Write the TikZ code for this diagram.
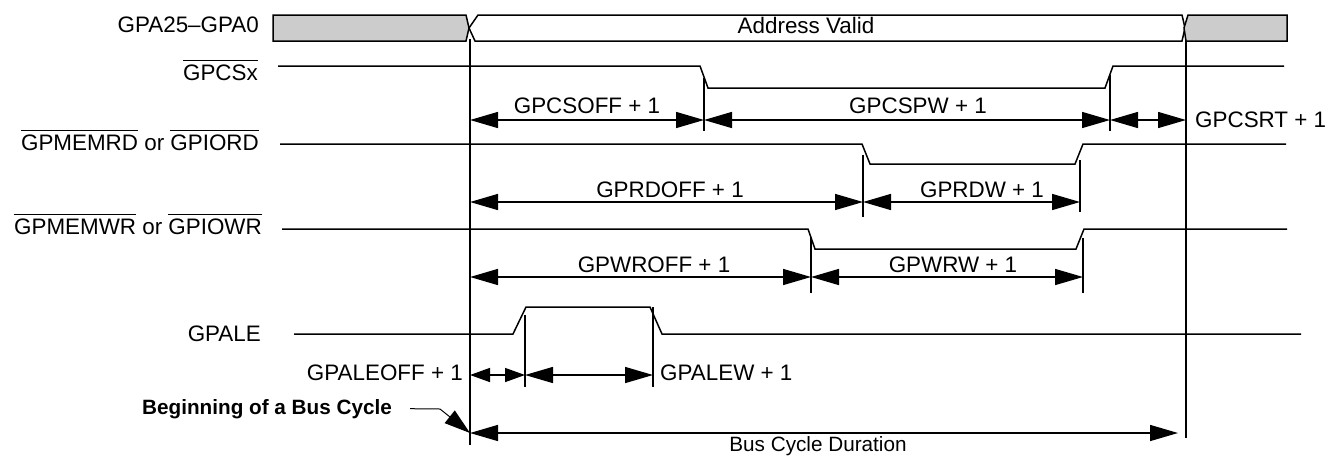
\documentclass[tikz,border=0pt]{standalone}
\usepackage{fontspec}
\setmainfont{Liberation Sans}
\usetikzlibrary{arrows.meta}
\usetikzlibrary{positioning}
\tikzset{sig/.style = {line width=1.5pt},
         span/.style = {line width=1.5pt,
                        {Triangle[length=28pt,width=16pt]}-{Triangle[length=28pt,width=16pt]}},
         shortspan/.style = {line width=1.5pt,
                        {Triangle[length=20pt,width=14pt]}-{Triangle[length=20pt,width=14pt]}},
         lbl/.style = {inner sep=0pt}}
\definecolor{busgray}{rgb}{0.8, 0.8, 0.8}
\newcommand{\negsig}[1]{\sbox0{#1}\rlap{\rule[19pt]{\wd0}{1.3pt}}\usebox0}

\begin{document}
\begin{tikzpicture}[x=1pt, y=-1pt, font=\fontsize{22.4}{26}\selectfont]
      \useasboundingbox (0,0) rectangle (1328,456);
      % signal names
      \node (nAddr) [lbl, anchor = base east] at (259,32) {GPA25–GPA0};
      \node (nCs) [lbl, anchor = base east] at (258,80) {\negsig{GPCSx}};
      \node (nRd) [lbl, anchor = base east] at (259,150) {\negsig{GPMEMRD} or \negsig{GPIORD}};
      \node (nWr) [lbl, anchor = base east] at (262,234) {\negsig{GPMEMWR} or \negsig{GPIOWR}};
      \node (nAle) [lbl, anchor = base east] at (261,341) {GPALE};
      % address bus
      \filldraw [sig, fill = busgray] (273,15) -- (466,15) -- (469,28) -- (466,41) -- (273,41) -- cycle;
      \draw [sig] (478,15) -- (1182,15) -- (1185,28) -- (1182,41) -- (475,41) -- (469,28) -- cycle;
      \filldraw [sig, fill = busgray] (1188,15) -- (1287,15) -- (1287,41) -- (1186,41) -- (1184,28) -- cycle;
      \node (valid) [lbl, anchor = base] at (806,33) {Address Valid};
      % cycle bounds
      \draw [sig] (470,39) -- (470,445);
      \draw [sig] (1186,41) -- (1186,438);
      % chip select
      \draw [sig] (278,66) -- (700,66) -- (708,88) -- (1105,88) -- (1113,66) -- (1284,66);
      \draw [sig] (704,78) -- (704,131);
      \draw [sig] (1110,75) -- (1110,131);
      \coordinate (cs0) at (470,120);
      \coordinate (cs1) at (704,120);
      \coordinate (cs2) at (1110,120);
      \coordinate (cs3) at (1186,120);
      \draw [span] (cs0) -- (cs1);
      \draw [span] (cs1) -- (cs2);
      \draw [span] (cs2) -- (cs3);
      \node (csOff) [lbl, anchor = base] at (587,113) {GPCSOFF + 1};
      \node (csPw) [lbl, anchor = base] at (918,113) {GPCSPW + 1};
      \node (csRt) [lbl, anchor = base west] at (1195,127) {GPCSRT + 1};
      % read strobe
      \draw [sig] (280,144) -- (862,144) -- (870,164) -- (1075,164) -- (1083,144) -- (1286,144);
      \draw [sig] (863,155) -- (863,217);
      \draw [sig] (1080,160) -- (1080,212);
      \coordinate (rd0) at (470,202);
      \coordinate (rd1) at (863,202);
      \coordinate (rd2) at (1080,202);
      \draw [span] (rd0) -- (rd1);
      \draw [span] (rd1) -- (rd2);
      \node (rdOff) [lbl, anchor = base] at (670,197) {GPRDOFF + 1};
      \node (rdW) [lbl, anchor = base] at (982,197) {GPRDW + 1};
      % write strobe
      \draw [sig] (282,229) -- (808,229) -- (815,249) -- (1076,249) -- (1084,229) -- (1287,229);
      \draw [sig] (811,237) -- (811,293);
      \draw [sig] (1083,238) -- (1083,293);
      \coordinate (wr0) at (470,277);
      \coordinate (wr1) at (811,277);
      \coordinate (wr2) at (1083,277);
      \draw [span] (wr0) -- (wr1);
      \draw [span] (wr1) -- (wr2);
      \node (wrOff) [lbl, anchor = base] at (654,272) {GPWROFF + 1};
      \node (wrW) [lbl, anchor = base] at (953,272) {GPWRW + 1};
      % address latch enable
      \draw [sig] (294,334) -- (513,334) -- (526,307) -- (650,307) -- (662,334) -- (1301,334);
      \draw [sig] (525,315) -- (525,387);
      \draw [sig] (653,307) -- (653,387);
      \coordinate (al0) at (470,375);
      \coordinate (al1) at (525,375);
      \coordinate (al2) at (653,375);
      \draw [shortspan] (al0) -- (al1);
      \draw [span] (al1) -- (al2);
      \node (alOff) [lbl, anchor = base east] at (463,380) {GPALEOFF + 1};
      \node (alW) [lbl, anchor = base west] at (660,380) {GPALEW + 1};
      % bus cycle
      \node (beg) [lbl, anchor = base east, font = \fontsize{20.7}{24}\selectfont\bfseries] at (392,414) {Beginning of a Bus Cycle};
      \coordinate (bc0) at (470,433);
      \coordinate (bc1) at (1178,433);
      \draw [line width = 1pt, -{Triangle[length=26pt,width=16pt]}] ([xshift=18pt]beg.east) -- (440,409) -- (bc0);
      \draw [span] (bc0) -- (bc1);
      \node (busLbl) [lbl, anchor = base, font = \fontsize{20.7}{24}\selectfont] at (818,451) {Bus Cycle Duration};
    \end{tikzpicture}
\end{document}
